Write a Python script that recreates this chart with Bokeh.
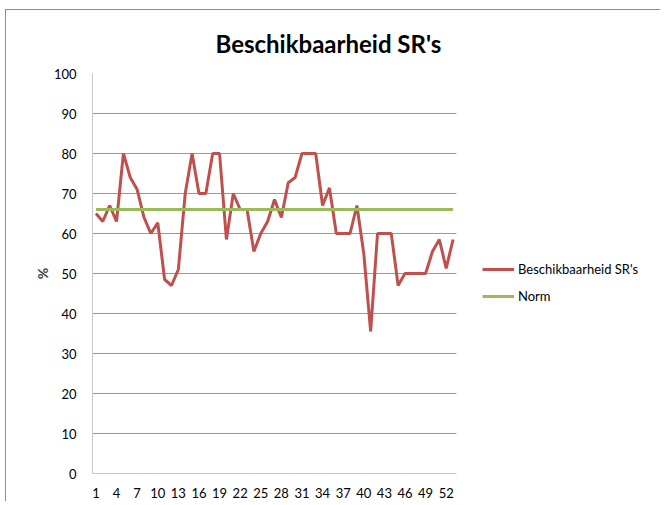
from bokeh.plotting import figure
from bokeh.models import Legend, LegendItem, FixedTicker, Range1d
from bokeh.embed import file_html
from bokeh.resources import INLINE

weeks = list(range(1, 54))
beschikbaarheid = [65, 63, 67, 63, 80, 74, 71, 64, 60, 62.7, 48.5, 47, 51, 70, 80, 70, 70, 80, 80,
                   58.5, 70, 66, 66, 55.5, 60, 63, 68.5, 64, 72.7, 74, 80, 80, 80, 67, 71.4,
                   60, 60, 60, 67, 55, 35.5, 60, 60, 60, 47, 50, 50, 50, 50, 55.5, 58.5, 51.3, 58.5]
norm = [66] * len(weeks)
x_tick_values = list(range(1, 54, 3))
y_tick_values = list(range(0, 101, 10))

FONT = "Lato"
X_MIN, X_MAX = 0.5, 53.5
# frame is widened to the right so that the legend can sit inside it
frame_w = 569
x_extent = frame_w / (364 / 53.0)

p = figure(width=655, height=492, output_backend="svg", toolbar_location=None,
           x_range=Range1d(X_MIN, X_MIN + x_extent), y_range=Range1d(0, 100),
           min_border_left=86, min_border_right=0, min_border_top=62, min_border_bottom=29)
p.styles = {"border-left": "1px solid #8c8c8c", "border-top": "1px solid #8c8c8c",
            "margin-left": "5px", "margin-top": "9px"}

p.title.text = "Beschikbaarheid SR's"
p.title.align = "left"
p.title.offset = 123
p.title.standoff = 32
p.title.text_font = FONT
p.title.text_font_size = "24px"
p.title.text_font_style = "bold"
p.title.text_color = "#000000"

p.outline_line_color = None
p.xgrid.grid_line_color = None
p.ygrid.grid_line_color = "#9a9a9a"
p.ygrid.grid_line_width = 1
p.ygrid.cross_bounds = (X_MIN, X_MAX)

for ax in (p.xaxis, p.yaxis):
    ax.axis_line_color = "#c8c8c8"
    ax.major_tick_line_color = None
    ax.minor_tick_line_color = None
    ax.major_label_text_font = FONT
    ax.major_label_text_font_size = "13px"
    ax.major_label_text_color = "#000000"

p.xaxis.bounds = (X_MIN, X_MAX)
p.xaxis.ticker = FixedTicker(ticks=x_tick_values)
p.yaxis.ticker = FixedTicker(ticks=y_tick_values)
p.xaxis.major_label_standoff = 8
p.yaxis.major_label_standoff = 10
p.yaxis.axis_label = "%"
p.yaxis.axis_label_text_font = FONT
p.yaxis.axis_label_text_font_size = "14px"
p.yaxis.axis_label_text_font_style = "bold"
p.yaxis.axis_label_standoff = 0

r1 = p.line(weeks, beschikbaarheid, line_color="#C0504D", line_width=3)
r2 = p.line(weeks, norm, line_color="#9BBB59", line_width=3)

legend = Legend(items=[LegendItem(label="Beschikbaarheid SR's", renderers=[r1]),
                       LegendItem(label="Norm", renderers=[r2])],
                location=(390, 167), orientation="vertical")
legend.border_line_color = None
legend.background_fill_alpha = 0
legend.label_text_font = FONT
legend.label_text_font_size = "13px"
legend.label_text_color = "#000000"
legend.glyph_width = 32
legend.glyph_height = 20
legend.label_height = 20
legend.label_standoff = 4
legend.spacing = 7
legend.padding = 0
legend.margin = 0
p.add_layout(legend, "center")

open("out.html", "w").write(file_html(p, INLINE))
